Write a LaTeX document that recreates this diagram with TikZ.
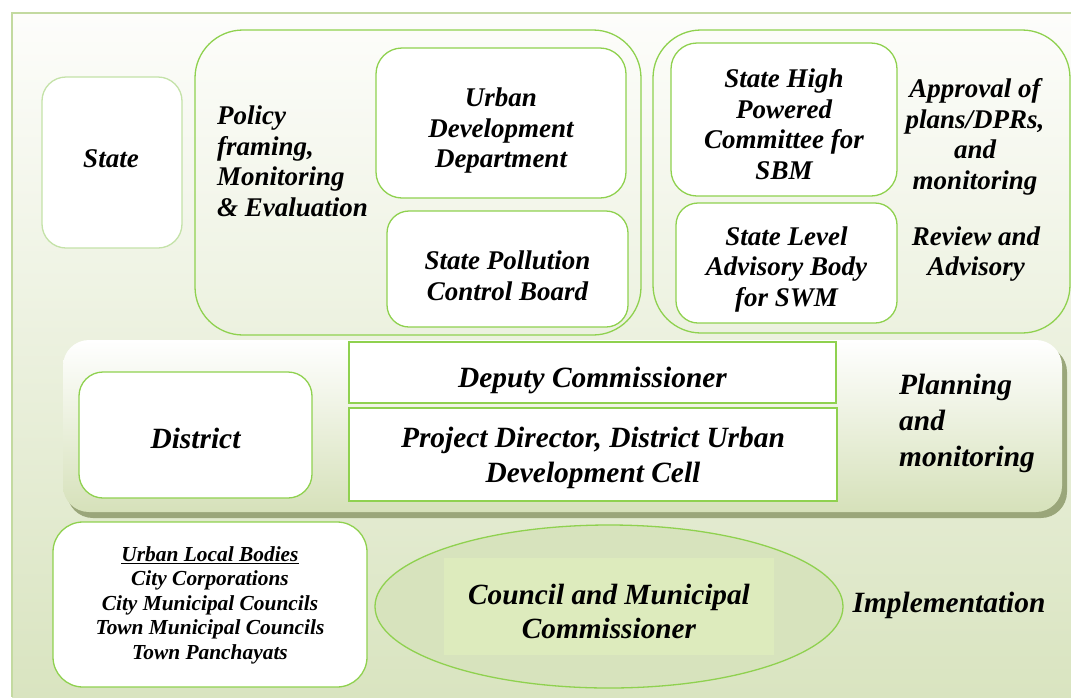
\documentclass[tikz,border=0pt]{standalone}
\usepackage{fontspec}
\setmainfont{Liberation Serif}
\usetikzlibrary{shapes.geometric}
\definecolor{lg}{HTML}{8FD14F}
\definecolor{fadeg}{HTML}{C4E2A8}
\definecolor{frameg}{HTML}{C3DAA0}
\definecolor{bgtop}{HTML}{FDFDFB}
\definecolor{bgbot}{HTML}{D9E4C0}
\definecolor{bandbot}{HTML}{D6E1BA}
\definecolor{shadowg}{HTML}{9AA67A}
\definecolor{ellfill}{HTML}{D7E3BD}
\definecolor{innerfill}{HTML}{DDEBBD}
\tikzset{
  txt/.style={font=\bfseries\itshape\fontsize{27}{30.5}\selectfont, align=center, inner sep=0pt},
  ltxt/.style={font=\bfseries\itshape\fontsize{27}{30.5}\selectfont, align=left, inner sep=0pt},
  bigtxt/.style={font=\bfseries\itshape\fontsize{29.4}{35}\selectfont, align=center, inner sep=0pt},
  ulbtxt/.style={font=\bfseries\itshape\fontsize{21.4}{24.5}\selectfont, align=center, inner sep=0pt},
  rbox/.style={draw=lg, line width=1.3pt, fill=white, rounded corners=#1, inner sep=0pt},
  grp/.style={draw=lg, line width=1.3pt, rounded corners=48pt, inner sep=0pt},
  sbox/.style={draw=lg, line width=1.3pt, fill=white, inner sep=0pt},
}
\begin{document}
\begin{tikzpicture}[x=1pt,y=-1pt]
\useasboundingbox (0,0) rectangle (1071,697);
% background
\fill[white] (0,0) rectangle (1071,697);
\shade[top color=bgtop, bottom color=bgbot] (12,13) rectangle (1071,697);
\draw[frameg, line width=2pt] (12,697) -- (12,13) -- (1071,13);

% State level
\node[rbox=24pt, draw=fadeg, minimum width=140pt, minimum height=171pt] (state) at (112,162.5) {};
\node[txt] (statet) at (111,159) {State};

\node[grp, minimum width=446pt, minimum height=305pt] (g1) at (418,182.5) {};
\node[ltxt, anchor=west] (policy) at (217,161.5) {Policy\\framing,\\Monitoring\\\& Evaluation};
\node[rbox=26pt, minimum width=250pt, minimum height=150pt] (udd) at (501,123) {};
\node[txt] (uddt) at (501,131) {Urban\\Development\\Department};
\node[rbox=22pt, minimum width=241pt, minimum height=116pt] (spcb) at (507.5,269) {};
\node[txt] (spcbt) at (507.5,276) {State Pollution\\Control Board};

\node[grp, minimum width=417pt, minimum height=303pt] (g2) at (861.5,181.5) {};
\node[rbox=26pt, minimum width=226pt, minimum height=153pt] (shpc) at (784,119.5) {};
\node[txt] (shpct) at (784,124.5) {State High\\Powered\\Committee for\\SBM};
\node[rbox=22pt, minimum width=221pt, minimum height=120pt] (slab) at (786.5,263) {};
\node[txt] (slabt) at (786.5,269) {State Level\\Advisory Body\\for SWM};
\node[txt] (approval) at (975,137) {Approval of\\plans/DPRs,\\and\\monitoring};
\node[txt] (review) at (976,254) {Review and\\Advisory};

% District band
\fill[shadowg, rounded corners=26pt] (67,346) rectangle (1067,518);
\shade[rounded corners=26pt, top color=white, bottom color=bandbot] (63,340) rectangle (1062,512);
\node[rbox=24pt, minimum width=233pt, minimum height=126pt] (district) at (195.5,435) {};
\node[bigtxt] (districtt) at (195.5,438) {District};
\node[sbox, minimum width=487pt, minimum height=61pt] (dc) at (592.5,372.5) {};
\node[bigtxt] (dct) at (592.5,380.5) {Deputy Commissioner};
\node[sbox, minimum width=488pt, minimum height=93pt] (pd) at (593,454.5) {};
\node[bigtxt] (pdt) at (593,457.5) {Project Director, District Urban\\Development Cell};
\node[bigtxt, font=\bfseries\itshape\fontsize{29.4}{36}\selectfont, align=left, anchor=west] (planning) at (899,423) {Planning\\and\\monitoring};

% ULB level
\node[rbox=30pt, minimum width=314pt, minimum height=165pt] (ulb) at (210,604.5) {};
\node[ulbtxt] (ulbt) at (210,605) {\underline{Urban Local Bodies}\\City Corporations\\City Municipal Councils\\Town Municipal Councils\\Town Panchayats};
\node[ellipse, draw=lg, line width=1.3pt, fill=ellfill, minimum width=468pt, minimum height=163pt, inner sep=0pt] (ell) at (609,606.5) {};
\node[fill=innerfill, minimum width=330pt, minimum height=97pt, inner sep=0pt] (council) at (609,606.5) {};
\node[bigtxt, font=\bfseries\itshape\fontsize{29.3}{34}\selectfont] (councilt) at (609,611.5) {Council and Municipal\\Commissioner};
\node[bigtxt] (impl) at (949,605) {Implementation};
\end{tikzpicture}
\end{document}
